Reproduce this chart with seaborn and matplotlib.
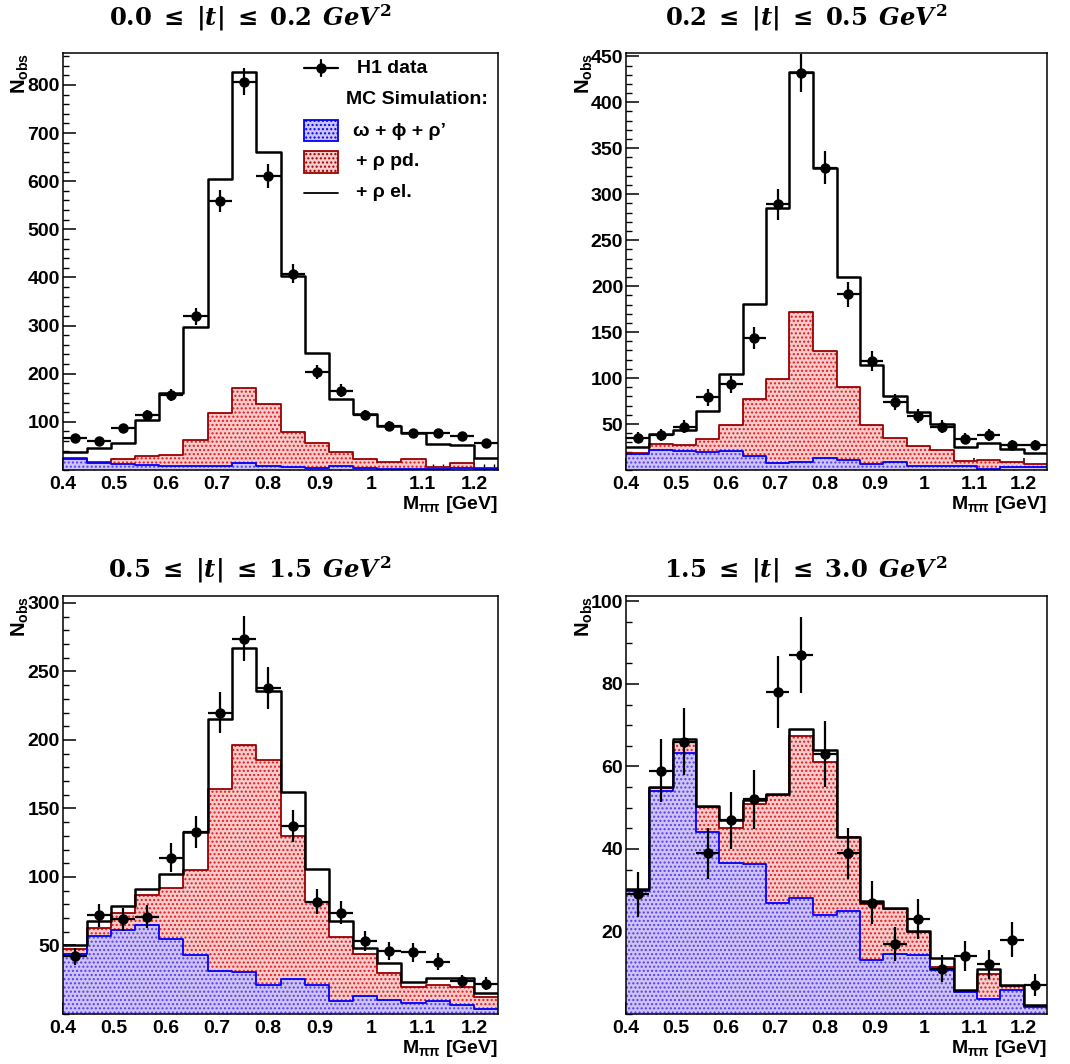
import matplotlib
matplotlib.use("Agg")
import numpy as np
import matplotlib.pyplot as plt
import seaborn as sns
from matplotlib.ticker import FixedLocator, MultipleLocator
from matplotlib.patches import Rectangle
from matplotlib.lines import Line2D

# ---------------- data ----------------
bin_edges = [0.400, 0.447, 0.494, 0.541, 0.588, 0.635, 0.682, 0.729, 0.776,
             0.824, 0.871, 0.918, 0.965, 1.012, 1.059, 1.106, 1.153, 1.200, 1.247]

titles = [r"$0.0\;\leq\;|t|\;\leq\;0.2\;\,GeV^{2}$",
          r"$0.2\;\leq\;|t|\;\leq\;0.5\;\,GeV^{2}$",
          r"$0.5\;\leq\;|t|\;\leq\;1.5\;\,GeV^{2}$",
          r"$1.5\;\leq\;|t|\;\leq\;3.0\;\,GeV^{2}$"]

# panel 1: 0.0 < |t| < 0.2
p1_data = [67, 60, 87, 114, 155, 319, 559, 807, 610, 408, 203, 165, 114, 92, 76, 76, 70, 55]
p1_err = [8.2, 7.7, 9.3, 10.7, 12.4, 17.9, 23.6, 28.4, 24.7, 20.2, 14.2, 12.8, 10.7, 9.6, 8.7, 8.7, 8.4, 7.4]
p1_total = [38, 46, 55, 103, 160, 298, 604, 826, 660, 403, 243, 148, 117, 91, 76, 54, 51, 24]
p1_rho_pd = [24, 17, 22, 29, 31, 63, 119, 170, 138, 78, 55, 37, 22, 16, 22, 7, 14, 5]
p1_bkg = [22, 15, 12, 11, 9, 9, 9, 15, 9, 6, 5, 8, 5, 3, 3, 3, 4, 2]

# panel 2: 0.2 < |t| < 0.5
p2_data = [35, 38, 47, 79, 93, 144, 289, 432, 329, 191, 119, 74, 59, 47, 34, 38, 27, 27]
p2_err = [5.9, 6.2, 6.9, 8.9, 9.6, 12.0, 17.0, 20.8, 18.1, 13.8, 10.9, 8.6, 7.7, 6.9, 5.8, 6.2, 5.2, 5.2]
p2_total = [25, 39, 43, 64, 104, 181, 285, 433, 329, 210, 114, 81, 63, 50, 25, 29, 23, 18]
p2_rho_pd = [18, 28, 27, 34, 49, 77, 99, 172, 129, 90, 49, 35, 26, 22, 10, 11, 9, 6]
p2_bkg = [17, 22, 21, 20, 21, 15, 8, 9, 13, 11, 7, 9, 4, 4, 4, 1.5, 3, 3.5]

# panel 3: 0.5 < |t| < 1.5
p3_data = [42, 72, 69, 71, 114, 133, 220, 274, 238, 137, 82, 74, 53, 46, 45, 38, 24, 22]
p3_err = [6.4, 8.5, 8.3, 8.4, 10.7, 11.5, 14.8, 16.6, 15.4, 11.7, 9.1, 8.6, 7.3, 6.8, 6.7, 6.2, 4.8, 4.7]
p3_total = [50, 67.5, 79, 91, 102, 133, 215.5, 267, 236, 162, 106, 68, 48.5, 37, 23, 26, 26, 15.5]
p3_rho_pd = [47.5, 62.6, 74, 87, 92, 105, 164, 196, 185, 130, 82, 56, 43.5, 29.6, 19.4, 21, 20, 12.6]
p3_bkg = [43.5, 57, 61, 65, 55, 43, 31.6, 31, 21, 25.7, 21, 9.7, 13, 10, 7.8, 9.7, 6.8, 3.4]

# panel 4: 1.5 < |t| < 3.0
p4_data = [29, 59, 66, 39, 47, 52, 78, 87, 63, 39, 27, 17, 23, 11, 14, 12, 18, 7]
p4_err = [5.4, 7.7, 8.1, 6.2, 6.9, 7.2, 8.8, 9.3, 7.9, 6.2, 5.2, 4.1, 4.8, 3.3, 3.7, 3.5, 4.2, 2.6]
p4_total = [30.4, 55, 66.6, 50.4, 47, 51.8, 53.4, 69, 64, 43, 27.5, 25.6, 20, 13.5, 5.7, 11, 7, 2.2]
p4_rho_pd = [30, 54.7, 66, 50.2, 45, 51, 53.2, 67.5, 61, 42.8, 26.7, 25.4, 19.8, 11.3, 5.6, 9.7, 6.9, 1.9]
p4_bkg = [29.8, 54, 63.3, 44, 36.5, 36.3, 27, 28, 24, 25, 13, 14.6, 14.3, 10.7, 5.4, 3.6, 5.9, 1.6]

y_limits = [867, 454, 305, 101.3]
y_major = [[100, 200, 300, 400, 500, 600, 700, 800],
           [50, 100, 150, 200, 250, 300, 350, 400, 450],
           [50, 100, 150, 200, 250, 300],
           [20, 40, 60, 80, 100]]
y_minor_step = [20, 10, 10, 5]
x_ticks = [0.4, 0.5, 0.6, 0.7, 0.8, 0.9, 1.0, 1.1, 1.2]
x_ticklabels = ["0.4", "0.5", "0.6", "0.7", "0.8", "0.9", "1", "1.1", "1.2"]

legend_labels = ["H1 data", "MC Simulation:", "\u03c9 + \u03d5 + \u03c1\u2019", "+ \u03c1 pd.", "+ \u03c1 el."]

panels = [
    (p1_data, p1_err, p1_total, p1_rho_pd, p1_bkg),
    (p2_data, p2_err, p2_total, p2_rho_pd, p2_bkg),
    (p3_data, p3_err, p3_total, p3_rho_pd, p3_bkg),
    (p4_data, p4_err, p4_total, p4_rho_pd, p4_bkg),
]

# ---------------- style ----------------
sns.set_theme(style="ticks")
plt.rcParams["font.family"] = ["Liberation Sans", "DejaVu Sans"]
plt.rcParams["font.weight"] = "bold"
plt.rcParams["text.color"] = "black"
plt.rcParams["axes.labelcolor"] = "black"
plt.rcParams["xtick.color"] = "black"
plt.rcParams["ytick.color"] = "black"
plt.rcParams["mathtext.fontset"] = "custom"
plt.rcParams["mathtext.rm"] = "DejaVu Serif:bold"
plt.rcParams["mathtext.bf"] = "DejaVu Serif:bold"
plt.rcParams["mathtext.it"] = "DejaVu Serif:italic:bold"
plt.rcParams["mathtext.sf"] = "Liberation Sans:bold"
plt.rcParams["hatch.linewidth"] = 1.0

RED_EDGE = "#9a0000"
RED_DOT = "#e41a1a"
RED_FACE = "#f8cccc"
BLUE_EDGE = "#0000ff"
BLUE_DOT = "#5a3cf0"
BLUE_FACE = "#cdc3f4"

FS = 14
edges = np.asarray(bin_edges)
centers = 0.5 * (edges[:-1] + edges[1:])
half_w = 0.5 * np.diff(edges)

fig = plt.figure(figsize=(10.70, 10.64), dpi=100)
positions = [(0.0586, 0.5583, 0.4068, 0.3922),
             (0.5850, 0.5583, 0.3935, 0.3922),
             (0.0586, 0.0470, 0.4068, 0.3928),
             (0.5850, 0.0470, 0.3935, 0.3928)]
title_xy = [(250, 18), (806, 18), (250, 570), (806, 570)]

for i, (data, err, total, rho_pd, bkg) in enumerate(panels):
    ax = fig.add_axes(positions[i])
    # red stacked (background + rho pd) fill
    sns.histplot(x=centers, weights=rho_pd, bins=bin_edges, element="step", fill=True,
                 facecolor=RED_FACE, edgecolor=RED_DOT, hatch="....", linewidth=0,
                 alpha=None, ax=ax)
    # blue background fill (overlaid)
    sns.histplot(x=centers, weights=bkg, bins=bin_edges, element="step", fill=True,
                 facecolor=BLUE_FACE, edgecolor=BLUE_DOT, hatch="....", linewidth=0,
                 alpha=None, ax=ax)
    # outlines
    sns.histplot(x=centers, weights=rho_pd, bins=bin_edges, element="step", fill=False,
                 color=RED_EDGE, linewidth=1.3, ax=ax)
    sns.histplot(x=centers, weights=bkg, bins=bin_edges, element="step", fill=False,
                 color=BLUE_EDGE, linewidth=1.3, ax=ax)
    sns.histplot(x=centers, weights=total, bins=bin_edges, element="step", fill=False,
                 color="black", linewidth=1.8, ax=ax)
    # data
    ax.errorbar(centers, data, yerr=err, xerr=half_w, fmt="o", color="black",
                markersize=6.5, elinewidth=1.6, capsize=0, zorder=10)

    ax.set_xlim(bin_edges[0], bin_edges[-1])
    ax.set_ylim(0, y_limits[i])
    ax.set_xlabel("")
    ax.set_ylabel("")
    ax.xaxis.set_major_locator(FixedLocator(x_ticks))
    ax.set_xticklabels(x_ticklabels)
    ax.xaxis.set_minor_locator(MultipleLocator(0.02))
    ax.yaxis.set_major_locator(FixedLocator(y_major[i]))
    ax.yaxis.set_minor_locator(MultipleLocator(y_minor_step[i]))
    ax.tick_params(axis="both", which="both", direction="in", top=False, right=False,
                   labelsize=FS, colors="black")
    ax.tick_params(axis="y", which="major", length=9, width=1.1, pad=2)
    ax.tick_params(axis="y", which="minor", length=4.5, width=1.0)
    ax.tick_params(axis="x", which="major", length=8.5, width=1.1, pad=4)
    ax.tick_params(axis="x", which="minor", length=4.3, width=1.0)
    for lab in ax.get_xticklabels() + ax.get_yticklabels():
        lab.set_fontweight("bold")
    for sp in ax.spines.values():
        sp.set_visible(True)
        sp.set_linewidth(1.1)
        sp.set_color("black")
        sp.set_zorder(20)

    ax.text(-0.098, 1.0, r"$\mathsf{N}_{\mathsf{obs}}$", transform=ax.transAxes,
            rotation=90, ha="center", va="top", fontsize=FS + 0.5)
    ax.text(1.0, -0.058, r"$\mathsf{M}_{\mathsf{\pi\pi}}$ [GeV]", transform=ax.transAxes,
            ha="right", va="top", fontsize=FS, fontweight="bold")

    tx, ty = title_xy[i]
    fig.text(tx / 1070, 1 - ty / 1064, titles[i], ha="center", va="center", fontsize=17.5)

    if i == 0:
        # legend (drawn in axes coordinates)
        ax.add_line(Line2D([0.555, 0.633], [0.963, 0.963], color="black", lw=1.6,
                           transform=ax.transAxes, zorder=30))
        ax.add_line(Line2D([0.594, 0.594], [0.943, 0.983], color="black", lw=1.6,
                           transform=ax.transAxes, zorder=30))
        ax.add_line(Line2D([0.594], [0.963], marker="o", markersize=6.5, color="black",
                           transform=ax.transAxes, zorder=31))
        ax.text(0.676, 0.963, legend_labels[0], transform=ax.transAxes, ha="left",
                va="center", fontsize=FS, fontweight="bold")
        ax.text(0.651, 0.887, legend_labels[1], transform=ax.transAxes, ha="left",
                va="center", fontsize=FS, fontweight="bold")
        ax.add_patch(Rectangle((0.555, 0.788), 0.078, 0.051, transform=ax.transAxes,
                               facecolor=BLUE_FACE, edgecolor=BLUE_EDGE, lw=1.3,
                               hatch="....", zorder=30))
        ax.text(0.667, 0.812, legend_labels[2], transform=ax.transAxes, ha="left",
                va="center", fontsize=FS, fontweight="bold")
        ax.add_patch(Rectangle((0.555, 0.712), 0.078, 0.052, transform=ax.transAxes,
                               facecolor=RED_FACE, edgecolor=RED_EDGE, lw=1.3,
                               hatch="....", zorder=30))
        ax.text(0.674, 0.740, legend_labels[3], transform=ax.transAxes, ha="left",
                va="center", fontsize=FS, fontweight="bold")
        ax.add_line(Line2D([0.555, 0.633], [0.664, 0.664], color="black", lw=1.3,
                           transform=ax.transAxes, zorder=30))
        ax.text(0.674, 0.664, legend_labels[4], transform=ax.transAxes, ha="left",
                va="center", fontsize=FS, fontweight="bold")

fig.savefig("out.png", dpi=100, facecolor="white")
